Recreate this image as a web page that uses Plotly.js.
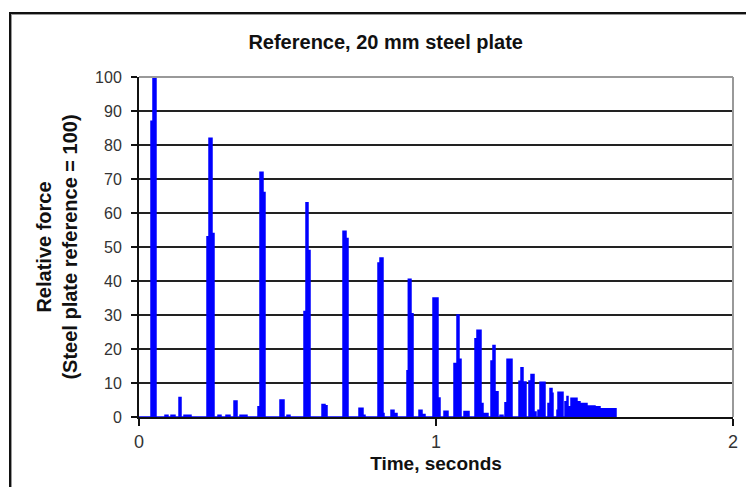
<!DOCTYPE html>
<html>
<head>
<meta charset="utf-8">
<script src="https://cdn.plot.ly/plotly-3.0.1.min.js"></script>
<style>
  html, body { margin: 0; padding: 0; background: #fff; overflow: hidden; }
  #chart { position: absolute; left: 0; top: 0; width: 746px; height: 487px; }
  #frame { position: absolute; left: 9px; top: 12px; width: 800px; height: 600px;
           border: 2px solid #111; pointer-events: none; box-shadow: 1px 1px 0 #999 inset; }
</style>
</head>
<body>
<div id="chart"></div>
<div id="frame"></div>
<script>
// Time (s) at which each force level starts (step data, held until the next time)
const time = [0, 0.0404, 0.0471, 0.0572, 0.0875, 0.0976, 0.1077, 0.1212, 0.1347, 0.1414,
  0.1515, 0.1751, 0.2290, 0.2357, 0.2458, 0.2525, 0.2660, 0.2761, 0.2929, 0.3064,
  0.3199, 0.3300, 0.3401, 0.3636, 0.4007, 0.4074, 0.4175, 0.4242, 0.4747, 0.4882,
  0.4983, 0.5084, 0.5556, 0.5623, 0.5690, 0.5758, 0.6162, 0.6263, 0.6330, 0.6869,
  0.6970, 0.7037, 0.7407, 0.7542, 0.7609, 0.8047, 0.8114, 0.8215, 0.8249, 0.8485,
  0.8586, 0.8687, 0.9024, 0.9068, 0.9158, 0.9226, 0.9428, 0.9529, 0.9630, 0.9899,
  1.0067, 1.0135, 1.0269, 1.0404, 1.0606, 1.0707, 1.0774, 1.0842, 1.0943, 1.1111,
  1.1313, 1.1380, 1.1515, 1.1582, 1.1616, 1.1751, 1.1852, 1.1919, 1.1987, 1.2088,
  1.2155, 1.2256, 1.2323, 1.2391, 1.2559, 1.2795, 1.2862, 1.2929, 1.3030, 1.3131,
  1.3199, 1.3300, 1.3367, 1.3434, 1.3502, 1.3670, 1.3771, 1.3838, 1.3906, 1.3939,
  1.4074, 1.4108, 1.4276, 1.4343, 1.4411, 1.4444, 1.4512, 1.4545, 1.4747, 1.4848,
  1.5084, 1.5185, 1.5354, 1.5522, 1.6061];

// Relative force (steel plate reference = 100)
const force = [0, 87, 100, 0, 0.5, 0, 0.5, 0, 5.7, 0,
  0.5, 0, 53, 82, 54, 0, 0.5, 0, 0.5, 0,
  4.7, 0, 0.5, 0, 3, 72, 66, 0, 5, 0,
  0.5, 0, 31, 63, 49, 0, 3.7, 3.3, 0, 54.6,
  52.5, 0, 2.6, 0.5, 0, 45.3, 46.8, 1, 0, 2,
  1, 0, 13.6, 40.5, 30.4, 0, 2, 0.7, 0, 35,
  5.6, 0, 1.7, 0, 15.7, 30, 17, 0, 1.6, 0,
  23, 25.5, 4, 0, 1, 0, 16.5, 21, 7.4, 0,
  0.5, 0, 4.2, 17, 0, 10.5, 14.5, 10.3, 0, 10.6,
  12.5, 1.5, 0, 2, 10.2, 0, 4, 8.4, 7, 0,
  2, 7.3, 0, 4.5, 6, 3, 0, 5.5, 4.5, 4,
  3.2, 3.2, 3, 2.4, 0];

const xTicks = [0, 1, 2];
const yTicks = [0, 10, 20, 30, 40, 50, 60, 70, 80, 90, 100];

const font = '"Liberation Sans Narrow", Arial, "Liberation Sans", sans-serif';
const tickFont = 'Arial, "Liberation Sans", sans-serif';

const trace = {
  x: time,
  y: force,
  type: 'scatter',
  mode: 'lines',
  line: { color: '#0000ff', width: 1.5, shape: 'hv' },
  fill: 'tozeroy',
  fillcolor: '#0000ff',
  hoverinfo: 'x+y'
};

const layout = {
  width: 746,
  height: 487,
  margin: { l: 139, r: 13, t: 77, b: 70, pad: 0 },
  paper_bgcolor: '#ffffff',
  plot_bgcolor: '#ffffff',
  showlegend: false,
  font: { family: font, color: '#222' },
  title: {
    text: '<b>Reference, 20 mm steel plate</b>',
    font: { family: font, size: 20, color: '#111' },
    xref: 'container', x: 0.517, xanchor: 'center',
    yref: 'container', y: 1 - 42 / 487, yanchor: 'middle'
  },
  xaxis: {
    range: [0, 2],
    tickvals: xTicks,
    ticktext: xTicks.map(String),
    ticks: 'outside', ticklen: 7, tickwidth: 1.5, tickcolor: '#111',
    showline: true, linecolor: '#111', linewidth: 2,
    showgrid: false, zeroline: false,
    tickfont: { family: tickFont, size: 18, color: '#333' },
    title: { text: '<b>Time, seconds</b>', font: { family: font, size: 19, color: '#111' }, standoff: 6 }
  },
  yaxis: {
    range: [0, 100],
    tickvals: yTicks,
    ticktext: yTicks.map(String),
    ticks: 'outside', ticklen: 6, tickwidth: 1.5, tickcolor: '#111',
    ticklabelstandoff: 6,
    showline: true, linecolor: '#111', linewidth: 2,
    showgrid: true, gridcolor: '#222', gridwidth: 1.5,
    zeroline: false,
    tickfont: { family: tickFont, size: 16, color: '#333' },
    title: { text: '<b>Relative force<br>(Steel plate reference = 100)</b>', font: { family: font, size: 20, color: '#111' }, standoff: 12 }
  },
  shapes: [
    { type: 'line', xref: 'paper', yref: 'paper', x0: 0, x1: 1, y0: 1, y1: 1, line: { color: '#999', width: 2 } },
    { type: 'line', xref: 'paper', yref: 'paper', x0: 1, x1: 1, y0: 0, y1: 1, line: { color: '#999', width: 2 } }
  ]
};

Plotly.newPlot('chart', [trace], layout, { displayModeBar: false, staticPlot: true });
</script>
</body>
</html>
